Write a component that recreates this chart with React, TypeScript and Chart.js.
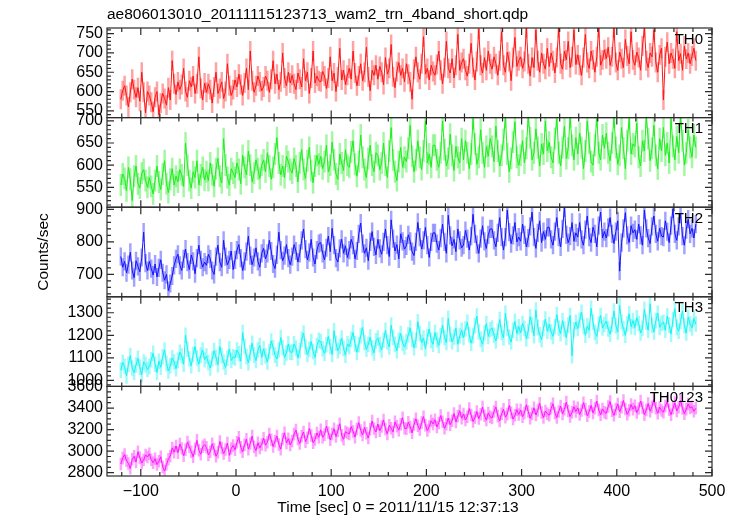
import { useEffect, useRef } from 'react';
import { Chart, registerables } from 'chart.js';

Chart.register(...registerables);

const TITLE = 'ae806013010_20111115123713_wam2_trn_4band_short.qdp';
const X_LABEL = 'Time [sec] 0 = 2011/11/15 12:37:13';
const Y_LABEL = 'Counts/sec';
const PANEL_NAMES = ['TH0', 'TH1', 'TH2', 'TH3', 'TH0123'];

const TIME_START = -121;
const TIME_STEP = 2;
const X_RANGE = [-135.5, 500];
const X_TICKS = [-100, 0, 100, 200, 300, 400, 500];

const TH0 = [
  580, 602, 615, 590, 560, 598, 632, 605, 585, 610, 575, 650, 598, 545, 600,
  590, 572, 548, 585, 600, 540, 570, 595, 582, 565, 610, 578, 680, 620, 592,
  625, 605, 618, 660, 600, 585, 628, 612, 640, 595, 620, 690, 608, 578, 622,
  598, 620, 605, 570, 612, 650, 595, 608, 625, 582, 600, 672, 615, 590, 605,
  630, 612, 645, 618, 590, 622, 660, 605, 705, 628, 598, 615, 640, 625, 602,
  612, 640, 628, 598, 632, 680, 620, 645, 605, 625, 700, 635, 615, 650, 622,
  642, 620, 605, 648, 632, 612, 685, 628, 650, 595, 635, 705, 622, 640, 628,
  625, 652, 640, 608, 635, 690, 628, 648, 600, 638, 712, 630, 655, 618, 642,
  660, 632, 705, 648, 615, 640, 672, 628, 650, 715, 638, 602, 655, 642, 668,
  632, 665, 650, 618, 688, 645, 660, 722, 638, 610, 652, 675, 642, 660, 625,
  672, 645, 625, 580, 658, 690, 650, 632, 672, 742, 645, 660, 630, 668, 652,
  642, 670, 705, 655, 620, 662, 730, 660, 648, 685, 635, 668, 748, 655, 675,
  685, 655, 640, 672, 725, 662, 630, 678, 762, 668, 648, 688, 655, 705, 672,
  658, 690, 672, 642, 680, 755, 668, 650, 702, 678, 628, 688, 740, 665, 680,
  690, 660, 678, 765, 672, 640, 688, 662, 760, 680, 650, 700, 672, 658, 712,
  665, 700, 680, 648, 688, 765, 672, 658, 705, 682, 730, 662, 690, 760, 670,
  695, 668, 642, 688, 748, 675, 660, 705, 682, 650, 690, 765, 668, 682, 708,
  685, 715, 668, 690, 765, 675, 655, 702, 685, 662, 735, 692, 672, 755, 682,
  668, 702, 688, 655, 718, 765, 680, 662, 700, 690, 760, 675, 650, 695, 712,
  578, 690, 728, 672, 700, 685, 660, 755, 680, 698, 655, 718, 684, 700, 672,
  692, 712, 680,
];

const TH1 = [
  555, 580, 570, 542, 595, 568, 520, 575, 598, 558, 548, 582, 590, 565, 550,
  572, 552, 535, 565, 598, 562, 545, 580, 610, 558, 538, 568, 592, 555, 575,
  562, 590, 578, 552, 650, 600, 565, 548, 585, 572, 610, 555, 578, 595, 566,
  585, 565, 605, 578, 552, 592, 615, 575, 560, 660, 600, 572, 555, 592, 582,
  572, 605, 590, 558, 622, 595, 578, 632, 600, 562, 582, 612, 592, 570, 600,
  612, 585, 628, 598, 568, 595, 625, 662, 605, 578, 598, 572, 620, 608, 590,
  582, 615, 598, 562, 605, 635, 590, 570, 610, 640, 588, 560, 598, 622, 602,
  620, 592, 608, 645, 585, 600, 652, 612, 580, 568, 625, 605, 588, 635, 600,
  595, 630, 655, 602, 575, 608, 668, 618, 590, 572, 615, 645, 600, 585, 628,
  622, 590, 605, 650, 600, 572, 632, 685, 612, 585, 565, 608, 640, 595, 618,
  608, 638, 690, 620, 585, 612, 655, 618, 590, 632, 700, 605, 625, 595, 645,
  645, 612, 595, 628, 700, 635, 598, 615, 670, 622, 588, 642, 618, 605, 660,
  612, 655, 628, 592, 625, 705, 648, 602, 618, 680, 628, 595, 642, 620, 660,
  642, 608, 688, 632, 598, 622, 658, 708, 625, 585, 615, 652, 698, 618, 600,
  622, 655, 605, 638, 710, 662, 612, 628, 682, 640, 598, 648, 625, 700, 632,
  652, 618, 605, 660, 705, 628, 598, 640, 688, 615, 638, 710, 645, 612, 662,
  625, 672, 640, 592, 632, 700, 650, 608, 600, 645, 710, 628, 612, 668, 638,
  672, 628, 610, 650, 708, 640, 602, 622, 685, 638, 592, 655, 705, 625, 648,
  642, 695, 618, 598, 655, 632, 708, 660, 610, 638, 690, 622, 592, 660, 632,
  685, 622, 650, 605, 705, 642, 612, 665, 628, 710, 655, 600, 628, 680, 640,
  618, 668, 640,
];

const TH2 = [
  755, 722, 740, 705, 730, 768, 712, 690, 742, 725, 708, 752, 830, 735, 712,
  740, 718, 698, 732, 692, 720, 745, 705, 682, 700, 650, 672, 695, 728, 748,
  762, 728, 712, 748, 778, 738, 715, 760, 740, 702, 750, 790, 745, 722, 738,
  728, 762, 748, 712, 700, 755, 790, 738, 722, 805, 755, 730, 745, 772, 715,
  745, 775, 792, 750, 712, 740, 770, 818, 758, 730, 752, 782, 740, 722, 765,
  780, 748, 765, 805, 772, 732, 718, 760, 830, 775, 742, 758, 792, 750, 730,
  755, 792, 772, 738, 765, 805, 840, 778, 745, 768, 808, 752, 732, 775, 795,
  798, 765, 745, 782, 818, 770, 842, 790, 750, 738, 780, 808, 765, 788, 752,
  775, 808, 790, 748, 772, 825, 858, 795, 765, 782, 742, 800, 832, 785, 760,
  808, 780, 762, 800, 840, 790, 755, 868, 810, 772, 792, 748, 825, 802, 778,
  788, 822, 802, 770, 758, 800, 860, 815, 778, 805, 845, 790, 752, 800, 828,
  828, 795, 775, 812, 855, 800, 765, 882, 820, 788, 808, 770, 840, 805, 782,
  790, 835, 810, 775, 818, 885, 825, 792, 765, 810, 850, 802, 780, 822, 840,
  840, 805, 785, 828, 875, 815, 775, 815, 898, 830, 795, 820, 860, 800, 815,
  802, 855, 822, 785, 812, 848, 892, 815, 780, 828, 865, 798, 832, 808, 845,
  845, 808, 790, 832, 875, 815, 785, 840, 905, 822, 798, 818, 860, 802, 828,
  815, 860, 808, 790, 838, 880, 815, 798, 845, 825, 785, 850, 892, 812, 832,
  812, 845, 875, 825, 795, 832, 865, 710, 798, 842, 890, 820, 798, 850, 828,
  838, 808, 855, 820, 790, 898, 842, 812, 795, 848, 880, 825, 802, 842, 818,
  815, 865, 832, 798, 850, 902, 825, 805, 848, 885, 818, 790, 838, 870, 825,
  842, 812, 855,
];

const TH3 = [
  1045, 1080, 1062, 1020, 1072, 1110, 1055, 1035, 1068, 1098, 1058, 1025, 1082, 1070, 1048,
  1062, 1092, 1120, 1072, 1035, 1085, 1058, 1105, 1135, 1075, 1042, 1065, 1100, 1082, 1052,
  1088, 1125, 1108, 1072, 1200, 1138, 1095, 1065, 1115, 1150, 1100, 1072, 1112, 1135, 1092,
  1108, 1078, 1055, 1095, 1132, 1102, 1070, 1150, 1110, 1082, 1058, 1098, 1140, 1088, 1105,
  1100, 1135, 1118, 1085, 1212, 1150, 1105, 1078, 1122, 1165, 1112, 1088, 1135, 1155, 1102,
  1140, 1108, 1082, 1128, 1175, 1145, 1112, 1095, 1135, 1190, 1145, 1102, 1122, 1162, 1125,
  1125, 1162, 1142, 1100, 1132, 1182, 1210, 1148, 1115, 1138, 1172, 1128, 1102, 1155, 1178,
  1172, 1140, 1120, 1158, 1195, 1150, 1115, 1220, 1165, 1132, 1150, 1188, 1142, 1112, 1162,
  1150, 1182, 1212, 1162, 1125, 1158, 1198, 1235, 1168, 1138, 1160, 1192, 1145, 1122, 1175,
  1188, 1158, 1135, 1178, 1222, 1170, 1148, 1245, 1190, 1160, 1132, 1178, 1208, 1165, 1148,
  1172, 1202, 1232, 1182, 1145, 1178, 1260, 1208, 1168, 1188, 1140, 1195, 1228, 1178, 1160,
  1212, 1180, 1155, 1198, 1245, 1190, 1168, 1275, 1205, 1172, 1192, 1232, 1160, 1198, 1222,
  1190, 1228, 1258, 1202, 1165, 1198, 1242, 1285, 1215, 1182, 1160, 1210, 1252, 1195, 1225,
  1232, 1200, 1175, 1218, 1270, 1212, 1188, 1298, 1230, 1192, 1170, 1222, 1262, 1208, 1238,
  1210, 1252, 1230, 1185, 1218, 1282, 1245, 1198, 1312, 1235, 1202, 1180, 1232, 1272, 1218,
  1248, 1215, 1195, 1238, 1292, 1232, 1208, 1265, 1228, 1190, 1245, 1288, 1110, 1225, 1258,
  1230, 1268, 1302, 1240, 1200, 1242, 1222, 1320, 1258, 1212, 1195, 1250, 1288, 1232, 1248,
  1262, 1228, 1205, 1248, 1308, 1242, 1215, 1332, 1260, 1230, 1200, 1250, 1295, 1238, 1265,
  1235, 1278, 1252, 1210, 1232, 1315, 1258, 1222, 1340, 1245, 1215, 1265, 1298, 1235, 1252,
  1258, 1222, 1285, 1245, 1205, 1270, 1318, 1235, 1218, 1262, 1308, 1242, 1210, 1280, 1250,
  1232, 1275, 1250,
];

const TH0123 = [
  2880, 2935, 2968, 2910, 2885, 2840, 2925, 2952, 2900, 2995, 2938, 2890, 2918, 2965, 2945,
  2975, 2920, 2892, 2930, 2875, 2905, 2948, 2852, 2815, 2878, 2925, 2955, 3030, 2990, 3048,
  2985, 3065, 3025, 2958, 3012, 3085, 3040, 2995, 2948, 3022, 3100, 3008, 2970, 3040, 3060,
  3035, 2965, 2995, 3068, 3018, 2952, 2990, 3090, 3030, 2978, 3015, 3075, 2960, 3025, 3052,
  3012, 3082, 3128, 3035, 2995, 3058, 3110, 3018, 3070, 3140, 3040, 3005, 3078, 3030, 3062,
  3120, 3055, 3082, 3160, 3105, 3042, 3092, 3140, 3062, 3018, 3112, 3170, 3075, 3115, 3058,
  3095, 3158, 3195, 3112, 3070, 3138, 3178, 3088, 3125, 3210, 3145, 3078, 3108, 3168, 3128,
  3198, 3128, 3152, 3232, 3170, 3105, 3160, 3208, 3135, 3188, 3255, 3148, 3110, 3180, 3168,
  3160, 3228, 3182, 3130, 3205, 3265, 3192, 3150, 3220, 3165, 3122, 3202, 3280, 3210, 3178,
  3252, 3190, 3228, 3290, 3205, 3160, 3240, 3212, 3178, 3272, 3232, 3195, 3250, 3310, 3212,
  3208, 3268, 3225, 3170, 3248, 3300, 3235, 3200, 3265, 3320, 3240, 3192, 3228, 3282, 3252,
  3292, 3225, 3262, 3330, 3272, 3212, 3250, 3308, 3245, 3282, 3350, 3270, 3325, 3375, 3305,
  3345, 3290, 3320, 3395, 3335, 3275, 3312, 3368, 3302, 3342, 3410, 3328, 3288, 3355, 3318,
  3308, 3368, 3410, 3325, 3280, 3348, 3388, 3315, 3345, 3425, 3358, 3298, 3332, 3385, 3340,
  3382, 3320, 3355, 3430, 3368, 3305, 3348, 3402, 3335, 3378, 3445, 3358, 3312, 3372, 3348,
  3332, 3395, 3440, 3355, 3312, 3368, 3418, 3345, 3388, 3455, 3372, 3322, 3360, 3412, 3368,
  3402, 3340, 3378, 3450, 3392, 3328, 3368, 3425, 3355, 3398, 3465, 3382, 3338, 3392, 3362,
  3352, 3415, 3460, 3375, 3332, 3388, 3438, 3365, 3408, 3470, 3392, 3342, 3380, 3432, 3390,
  3422, 3358, 3395, 3465, 3402, 3338, 3382, 3442, 3370, 3412, 3480, 3398, 3352, 3408, 3378,
  3362, 3420, 3462, 3385, 3338, 3398, 3448, 3372, 3408, 3470, 3395, 3348, 3390, 3438, 3400,
  3412, 3370, 3398,
];

const ERRORS = [25, 24, 27, 33, 55];

const Y_TICKS_TH0 = [550, 600, 650, 700, 750];
const Y_TICKS_TH1 = [550, 600, 650, 700];
const Y_TICKS_TH2 = [700, 800, 900];
const Y_TICKS_TH3 = [1000, 1100, 1200, 1300];
const Y_TICKS_TH0123 = [2800, 3000, 3200, 3400, 3600];

const Y_RANGE_TH0 = [532.5, 764.6];
const Y_RANGE_TH1 = [505, 707.4];
const Y_RANGE_TH2 = [631, 907];
const Y_RANGE_TH3 = [973.5, 1370.6];
const Y_RANGE_TH0123 = [2769, 3601];

const Y_MINOR_STEPS = [10, 10, 20, 20, 50];

const LINE_COLORS = ['#ff1414', '#1eee1e', '#1414ff', '#14f4f4', '#ff14ff'];
const BAR_COLORS = [
  'rgba(255,70,70,0.5)',
  'rgba(70,240,70,0.5)',
  'rgba(70,70,255,0.5)',
  'rgba(70,245,245,0.5)',
  'rgba(255,70,255,0.5)',
];

const SERIES = [TH0, TH1, TH2, TH3, TH0123];
const Y_TICKS = [Y_TICKS_TH0, Y_TICKS_TH1, Y_TICKS_TH2, Y_TICKS_TH3, Y_TICKS_TH0123];
const Y_RANGES = [Y_RANGE_TH0, Y_RANGE_TH1, Y_RANGE_TH2, Y_RANGE_TH3, Y_RANGE_TH0123];

const FONT = '"Liberation Sans", Arial, sans-serif';
const FRAME_COLOR = '#2a2a2a';

const panelPlugin = {
  id: 'qdpPanels',
  beforeDatasetDraw(chart: any, args: any) {
    const ys = chart.scales[args.meta.yAxisID];
    const ca = chart.chartArea;
    const ctx = chart.ctx;
    ctx.save();
    ctx.beginPath();
    ctx.rect(ca.left, ys.top, ca.right - ca.left, ys.bottom - ys.top);
    ctx.clip();
  },
  afterDatasetDraw(chart: any) {
    chart.ctx.restore();
  },
  afterDraw(chart: any) {
    const ctx = chart.ctx;
    const ca = chart.chartArea;
    const xs = chart.scales.x;
    ctx.save();
    ctx.strokeStyle = FRAME_COLOR;
    ctx.lineWidth = 1.2;
    PANEL_NAMES.forEach((name, i) => {
      const ys = chart.scales['y' + i];
      const top = ys.top;
      const bot = ys.bottom;
      ctx.strokeRect(ca.left, top, ca.right - ca.left, bot - top);
      ctx.beginPath();
      const step = Y_MINOR_STEPS[i];
      for (let v = Math.ceil(ys.min / step) * step; v <= ys.max; v += step) {
        const y = ys.getPixelForValue(v);
        const len = Y_TICKS[i].includes(v) ? 7 : 4;
        ctx.moveTo(ca.left, y);
        ctx.lineTo(ca.left + len, y);
        ctx.moveTo(ca.right, y);
        ctx.lineTo(ca.right - len, y);
      }
      for (let v = -120; v <= 500; v += 20) {
        const x = xs.getPixelForValue(v);
        if (x < ca.left - 0.5 || x > ca.right + 0.5) continue;
        const len = v % 100 === 0 ? 7 : 4;
        ctx.moveTo(x, top);
        ctx.lineTo(x, top + len);
        ctx.moveTo(x, bot);
        ctx.lineTo(x, bot - len);
      }
      ctx.stroke();
      ctx.fillStyle = '#000';
      ctx.font = '15px ' + FONT;
      ctx.textAlign = 'right';
      ctx.textBaseline = 'top';
      ctx.fillText(name, ca.right - 9, top + 4);
    });
    ctx.fillStyle = '#000';
    ctx.font = '15.5px ' + FONT;
    ctx.textAlign = 'left';
    ctx.textBaseline = 'alphabetic';
    ctx.fillText(TITLE, ca.left, 19);
    ctx.textAlign = 'center';
    ctx.fillText(X_LABEL, 398, 512);
    ctx.translate(48, 252);
    ctx.rotate(-Math.PI / 2);
    ctx.fillText(Y_LABEL, 0, 0);
    ctx.restore();
  },
};

export default function App() {
  const ref = useRef<HTMLCanvasElement | null>(null);
  useEffect(() => {
    document.body.style.margin = '0';
    const canvas = ref.current;
    if (!canvas) return;
    const times = TH0.map((_, j) => TIME_START + j * TIME_STEP);
    const datasets: any[] = [];
    SERIES.forEach((vals, i) => {
      datasets.push({
        type: 'bar',
        data: vals.map((v, j) => ({ x: times[j], y: [v - ERRORS[i], v + ERRORS[i]] })),
        xAxisID: 'x',
        yAxisID: 'y' + i,
        backgroundColor: BAR_COLORS[i],
        borderWidth: 0,
        barThickness: 1.8,
        grouped: false,
        order: 2,
      });
      datasets.push({
        type: 'line',
        data: vals.map((v, j) => ({ x: times[j], y: v })),
        xAxisID: 'x',
        yAxisID: 'y' + i,
        borderColor: LINE_COLORS[i],
        borderWidth: 1,
        pointRadius: 0,
        tension: 0,
        order: 1,
      });
    });
    const scales: any = {
      x: {
        type: 'linear',
        position: 'bottom',
        offset: false,
        min: X_RANGE[0],
        max: X_RANGE[1],
        grid: { display: false, drawTicks: false, tickLength: 0, offset: false },
        border: { display: false },
        afterBuildTicks: (s: any) => {
          s.ticks = X_TICKS.map((v) => ({ value: v }));
        },
        afterFit: (s: any) => {
          s.height = 40;
        },
        ticks: {
          padding: 6,
          maxRotation: 0,
          autoSkip: false,
          color: '#000',
          font: { family: FONT, size: 16 },
          callback: (v: any) => (Number(v) < 0 ? '\u2212' + Math.abs(Number(v)) : String(v)),
        },
      },
    };
    for (let i = Y_RANGES.length - 1; i >= 0; i--) {
      const r = Y_RANGES[i];
      scales['y' + i] = {
        type: 'linear',
        position: 'left',
        stack: 'panels',
        stackWeight: 1,
        min: r[0],
        max: r[1],
        grid: { display: false, drawTicks: false, tickLength: 0 },
        border: { display: false },
        afterBuildTicks: (s: any) => {
          s.ticks = Y_TICKS[i].map((v) => ({ value: v }));
        },
        afterFit: (s: any) => {
          s.width = 107;
        },
        ticks: {
          padding: 4,
          autoSkip: false,
          color: '#000',
          font: { family: FONT, size: 16 },
          callback: (v: any) => String(v),
        },
      };
    }
    const chart = new Chart(canvas, {
      type: 'line',
      data: { datasets },
      options: {
        animation: false,
        responsive: false,
        layout: { padding: { left: 0, right: 25, top: 28, bottom: 0 } },
        plugins: { legend: { display: false }, tooltip: { enabled: false }, title: { display: false } },
        scales,
      } as any,
      plugins: [panelPlugin],
    });
    return () => chart.destroy();
  }, []);
  return (
    <div style={{ width: 737, height: 516, background: '#fff' }}>
      <canvas ref={ref} width={737} height={516} />
    </div>
  );
}
